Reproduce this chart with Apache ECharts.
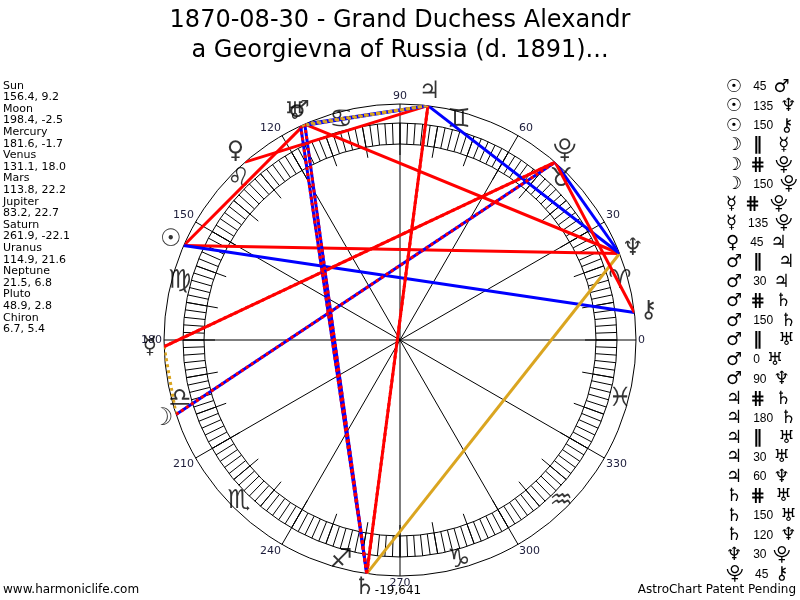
<!DOCTYPE html>
<html>
<head>
<meta charset="utf-8">
<title>AstroChart</title>
<script src="https://cdn.jsdelivr.net/npm/echarts@6/dist/echarts.min.js"></script>
<style>
  html, body { margin: 0; padding: 0; background: #fff; }
  #chart { width: 800px; height: 600px; }
</style>
</head>
<body>
<div id="chart"></div>
<script>
// 行星 (名称 / 符号 / 黄经 / 赤纬)
const planetNames = ['Sun', 'Moon', 'Mercury', 'Venus', 'Mars', 'Jupiter', 'Saturn', 'Uranus', 'Neptune', 'Pluto', 'Chiron'];
const planetGlyphs = ['☉', '☽', '☿', '♀', '♂', '♃', '♄', '♅', '♆', '⯓', '⚷'];
const planetLon = [156.4, 198.4, 181.6, 131.1, 113.8, 83.2, 261.9, 114.9, 21.5, 48.9, 6.7];
const planetDec = [9.2, -2.5, -1.7, 18.0, 22.2, 22.7, -22.1, 21.6, 6.8, 2.8, 5.4];

// 星座
const signGlyphs = ['♈', '♉', '♊', '♋', '♌', '♍', '♎', '♏', '♐', '♑', '♒', '♓'];
const signMid = [15, 45, 75, 105, 135, 165, 195, 225, 255, 285, 315, 345];

// 相位 (P = 平行, CP = 反平行)
const aspectFrom = ['Sun', 'Sun', 'Sun', 'Moon', 'Moon', 'Moon', 'Mercury', 'Mercury', 'Venus', 'Mars', 'Mars', 'Mars', 'Mars',
    'Mars', 'Mars', 'Mars', 'Jupiter', 'Jupiter', 'Jupiter', 'Jupiter', 'Jupiter', 'Saturn', 'Saturn', 'Saturn', 'Neptune', 'Pluto'];
const aspectKind = ['45', '135', '150', 'P', 'CP', '150', 'CP', '135', '45', 'P', '30', 'CP', '150',
    'P', '0', '90', 'CP', '180', 'P', '30', '60', 'CP', '150', '120', '30', '45'];
const aspectTo = ['Mars', 'Neptune', 'Chiron', 'Mercury', 'Pluto', 'Pluto', 'Pluto', 'Pluto', 'Jupiter', 'Jupiter', 'Jupiter', 'Saturn', 'Saturn',
    'Uranus', 'Uranus', 'Neptune', 'Saturn', 'Saturn', 'Uranus', 'Uranus', 'Neptune', 'Uranus', 'Uranus', 'Neptune', 'Pluto', 'Chiron'];

const titleText = '1870-08-30 - Grand Duchess Alexandr\na Georgievna of Russia (d. 1891)...';

const dom = document.getElementById('chart');
const myChart = echarts.init(dom);
const FONT = '"DejaVu Sans", Verdana, sans-serif';
const CENTER = [400, 340];

function lonOf(name) {
    return planetLon[planetNames.indexOf(name)];
}
function glyphOf(name) {
    return planetGlyphs[planetNames.indexOf(name)];
}
function aspectStyle(kind) {
    if (kind === 'P') return { color: '#daa520', width: 3, type: [3, 3] };
    if (kind === 'CP') return { color: '#ff0000', width: 3, type: [3, 3] };
    if (['45', '90', '135', '180'].includes(kind)) return { color: '#ff0000', width: 3, type: 'solid' };
    if (['30', '60', '150'].includes(kind)) return { color: '#0000ff', width: 3, type: 'solid' };
    return { color: '#daa520', width: 3, type: 'solid' };
}

// 相位连线: 实线在前, 点线在后
let solidSeries = [];
let dottedSeries = [];
aspectKind.forEach((kind, i) => {
    const st = aspectStyle(kind);
    const s = {
        type: 'line',
        coordinateSystem: 'polar',
        polarIndex: 0,
        symbol: 'none',
        clip: false,
        silent: true,
        lineStyle: st,
        data: [[1, lonOf(aspectFrom[i])], [1, lonOf(aspectTo[i])]]
    };
    if (st.type === 'solid') solidSeries.push(s); else dottedSeries.push(s);
});

// 行星与星座符号
const planetGlyphSeries = {
    type: 'scatter',
    coordinateSystem: 'polar',
    polarIndex: 0,
    clip: false,
    silent: true,
    symbolSize: 1,
    itemStyle: { color: 'rgba(0,0,0,0)' },
    label: {
        show: true, position: 'inside', fontSize: 24, fontFamily: FONT, color: '#000',
        formatter: p => planetGlyphs[p.dataIndex]
    },
    data: planetLon.map(v => [1.06, v])
};
const signGlyphSeries = {
    type: 'scatter',
    coordinateSystem: 'polar',
    polarIndex: 0,
    clip: false,
    silent: true,
    symbolSize: 1,
    itemStyle: { color: 'rgba(0,0,0,0)' },
    label: {
        show: true, position: 'inside', fontSize: 26, fontFamily: FONT, color: '#000',
        formatter: p => signGlyphs[p.dataIndex]
    },
    data: signMid.map(v => [0.965, v])
};

// 左侧行星列表
let leftLines = [];
planetNames.forEach((n, i) => {
    leftLines.push(n);
    leftLines.push(planetLon[i].toFixed(1) + ', ' + planetDec[i].toFixed(1));
});

// 右侧相位列表
const kindText = { P: '∥', CP: '⋕' };
let rightItems = aspectKind.map((kind, i) => ({
    type: 'text',
    x: 726,
    y: 87 + i * 19.5,
    silent: true,
    style: {
        text: '{g|' + glyphOf(aspectFrom[i]) + '}{' + (kind === 'P' ? 'p' : kind === 'CP' ? 'c' : 'n') + '|' + (kindText[kind] || kind) + '}{g|' + glyphOf(aspectTo[i]) + '}',
        verticalAlign: 'middle',
        fill: '#000',
        rich: {
            g: { fontSize: 18, fontFamily: FONT, fill: '#000' },
            n: { fontSize: 12, fontFamily: '"Liberation Sans", Arial, sans-serif', fill: '#000', padding: [0, 7, 0, 11] },
            p: { fontSize: 18, fontWeight: 'bold', fontFamily: FONT, fill: '#000', padding: [0, 16, 0, 11] },
            c: { fontSize: 18, fontWeight: 'bold', fontFamily: FONT, fill: '#000', padding: [0, 10, 0, 8] }
        }
    }
}));

const ringAxisCommon = {
    type: 'value', min: 0, max: 360, startAngle: 0, clockwise: false,
    axisTick: { show: false }, axisLabel: { show: false }
};

let option = {
    backgroundColor: '#fff',
    animation: false,
    title: {
        text: titleText,
        left: 'center',
        top: 1,
        textStyle: { fontSize: 24, fontWeight: 'normal', fontFamily: FONT, color: '#000', lineHeight: 30 }
    },
    polar: [
        { center: CENTER, radius: 236 },
        { center: CENTER, radius: [196, 217] },
        { center: CENTER, radius: [185, 217] }
    ],
    angleAxis: [
        {
            polarIndex: 0, type: 'value', min: 0, max: 360, interval: 30, startAngle: 0, clockwise: false,
            axisLine: { show: true, lineStyle: { color: '#000', width: 1 } },
            axisTick: { show: false },
            splitLine: { show: true, lineStyle: { color: '#000', width: 1 } },
            axisLabel: {
                show: true, margin: 2, fontSize: 11, fontFamily: FONT, color: '#1c1c3a',
                formatter: v => (v === 360 ? '' : String(v))
            }
        },
        Object.assign({}, ringAxisCommon, {
            polarIndex: 1, interval: 2,
            axisLine: { show: true, lineStyle: { color: '#000', width: 1 } },
            splitLine: { show: true, lineStyle: { color: '#000', width: 1 } }
        }),
        Object.assign({}, ringAxisCommon, {
            polarIndex: 2, interval: 10,
            axisLine: { show: false },
            splitLine: { show: true, lineStyle: { color: '#000', width: 1 } }
        })
    ],
    radiusAxis: [
        { polarIndex: 0, type: 'value', min: 0, max: 1, show: false },
        { polarIndex: 1, type: 'value', min: 0, max: 1, show: false },
        { polarIndex: 2, type: 'value', min: 0, max: 1, show: false }
    ],
    graphic: [
        {
            type: 'text', x: 3, y: 80, silent: true,
            style: { text: leftLines.join('\n'), fontSize: 11, fontFamily: FONT, lineHeight: 11.6, fill: '#000' }
        },
        {
            type: 'text', x: 3, y: 590, silent: true,
            style: { text: 'www.harmoniclife.com', fontSize: 12, fontFamily: FONT, fill: '#000', verticalAlign: 'middle' }
        },
        {
            type: 'text', x: 796, y: 590, silent: true,
            style: { text: 'AstroChart Patent Pending', fontSize: 12, fontFamily: FONT, fill: '#000', align: 'right', verticalAlign: 'middle' }
        },
        {
            type: 'text', x: 398, y: 591, silent: true,
            style: { text: '-19,641', fontSize: 12, fontFamily: FONT, fill: '#000', align: 'center', verticalAlign: 'middle' }
        }
    ].concat(rightItems),
    series: solidSeries.concat(dottedSeries, [planetGlyphSeries, signGlyphSeries])
};

if (option && typeof option === 'object') {
    myChart.setOption(option);
}

window.addEventListener('resize', function () {
    myChart.resize();
});
</script>
</body>
</html>
